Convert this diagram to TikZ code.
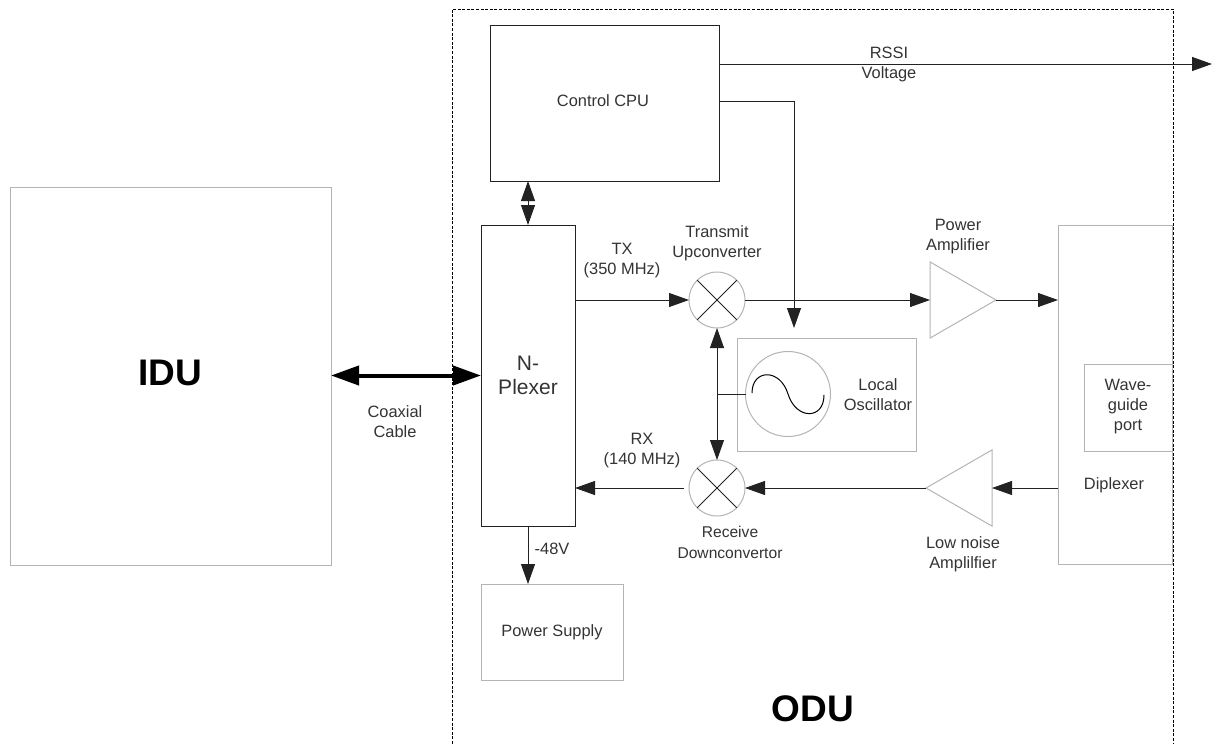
\documentclass[tikz,border=0pt]{standalone}
\usepackage{fontspec}
\setmainfont{Liberation Sans}
\usetikzlibrary{arrows.meta,shapes.geometric}
\definecolor{boxgray}{HTML}{B4B4B4}
\definecolor{linedark}{HTML}{222222}
\definecolor{textdark}{HTML}{333333}

\begin{document}
\begin{tikzpicture}[
		x=1pt,y=-1pt,
		every node/.style={inner sep=0pt,outer sep=0pt,text=textdark},
		label/.style={align=center,font=\fontsize{16.4}{20}\selectfont},
		biglabel/.style={font=\fontsize{37}{40}\selectfont\bfseries,text=black},
		graybox/.style={draw=boxgray,line width=1pt,rectangle},
		darkbox/.style={draw=linedark,line width=1pt,rectangle},
		mixer/.style={draw=boxgray,line width=1pt,circle,minimum size=56pt},
		amp/.style={draw=boxgray,line width=1pt,isosceles triangle,isosceles triangle apex angle=60,minimum height=66pt},
		sig/.style={draw=linedark,line width=0.9pt,-{Triangle[length=20pt,width=14pt]}},
		sigboth/.style={draw=linedark,line width=0.9pt,{Triangle[length=20pt,width=14pt]}-{Triangle[length=20pt,width=14pt]}},
		plain/.style={draw=linedark,line width=0.9pt}
		]
		\useasboundingbox (0,0) rectangle (1214,744);
		% boxes
		\node[graybox,minimum width=321pt,minimum height=378pt] (idu) at (170.5,376) {};
		\node[darkbox,minimum width=229pt,minimum height=156pt] (cpu) at (604.5,103) {};
		\node[darkbox,minimum width=94pt,minimum height=301pt] (nplexer) at (528,375.5) {};
		\node[graybox,minimum width=142pt,minimum height=96pt] (power) at (552,632) {};
		\node[graybox,minimum width=179pt,minimum height=113pt] (lobox) at (826.5,394.5) {};
		\node[graybox,minimum width=114pt,minimum height=339pt] (diplexer) at (1115,394.5) {};
		\node[graybox,minimum width=88pt,minimum height=87pt] (wave) at (1128,407.5) {};
		% ODU frame
		\coordinate (odubl) at (452,744);
		\coordinate (odutl) at (452,9);
		\coordinate (odutr) at (1173,9);
		\coordinate (odubr) at (1173,744);
		\draw[black,line width=0.9pt,dash pattern=on 3pt off 1.6pt] (odubl) -- (odutl) -- (odutr) -- (odubr);
		% mixers
		\node[mixer] (upmix) at (717,300) {};
		\node[mixer] (downmix) at (717,488) {};
		\foreach \m in {upmix,downmix} {
			\draw[plain] (\m.north west) -- (\m.south east);
			\draw[plain] (\m.north east) -- (\m.south west);
		}
		% oscillator
		\node[graybox,circle,minimum size=85pt] (osc) at (788,394) {};
		\draw[draw=black,line width=1pt] (752,393) .. controls (752,369) and (780,368) .. (788,394) .. controls (796,420) and (824,420) .. (824,395);
		% amplifiers
		\node[amp,anchor=lower side] (pa) at (930,300) {};
		\node[amp,shape border rotate=180,anchor=lower side] (lna) at (992,488) {};
		% connectors
		\coordinate (rssiend) at (1212,64);
		\coordinate (cpuout) at (794,101);
		\coordinate (locin) at (794,328);
		\draw[sig] (cpu.east |- rssiend) -- (rssiend);
		\draw[sig] (cpu.east |- cpuout) -- (cpuout) -- (locin);
		\draw[sigboth] (cpu.south -| nplexer.north) -- (nplexer.north);
		\draw[{Triangle[length=28pt,width=19pt]}-{Triangle[length=28pt,width=19pt]},draw=black,line width=4pt] (idu.east |- nplexer.west) -- (nplexer.west);
		\draw[sig] (upmix -| nplexer.east) -- (upmix.west);
		\draw[sig] (upmix.east) -- (pa.lower side);
		\draw[sig] (pa.apex) -- (pa.apex -| diplexer.west);
		\draw[sig] (lna.apex -| diplexer.west) -- (lna.lower side);
		\draw[sig] (lna.apex) -- (downmix.east);
		\coordinate (rxgap) at (684,488);
		\draw[sig] (rxgap) -- (rxgap -| nplexer.east);
		\draw[sigboth] (upmix.south) -- (downmix.north);
		\draw[plain] (osc.west) -- (osc.west -| upmix.south);
		\draw[sig] (nplexer.south) -- (nplexer.south |- power.north);
		% labels
		\node[biglabel] (idulabel) at (170,373) {IDU};
		\node[biglabel] (odulabel) at (813,709) {ODU};
		\node[label] (cpulabel) at (603,101) {Control CPU};
		\node[label,font=\fontsize{21}{24}\selectfont] (nplexerlabel) at (528,375) {N-\\Plexer};
		\node[label] (coaxlabel) at (395,422) {Coaxial\\Cable};
		\node[label] (txlabel) at (622,261) {TX\\(350 MHz)};
		\node[label] (rxlabel) at (642,451) {RX\\(140 MHz)};
		\node[label] (rssilabel) at (889,64) {RSSI\\Voltage};
		\node[label] (uplabel) at (717,243) {Transmit\\Upconverter};
		\node[label,font=\fontsize{15.6}{21}\selectfont] (downlabel) at (730,542) {Receive\\Downconvertor};
		\node[label] (palabel) at (958,237) {Power\\Amplifier};
		\node[label] (lnalabel) at (963,554) {Low noise\\Amplilfier};
		\node[label] (lolabel) at (878,395) {Local\\Oscillator};
		\node[label] (wavelabel) at (1128,407) {Wave-\\guide\\port};
		\node[label] (diplabel) at (1114,485) {Diplexer};
		\node[label] (voltlabel) at (552,549) {-48V};
		\node[label] (powerlabel) at (552,632) {Power Supply};
	\end{tikzpicture}
\end{document}
